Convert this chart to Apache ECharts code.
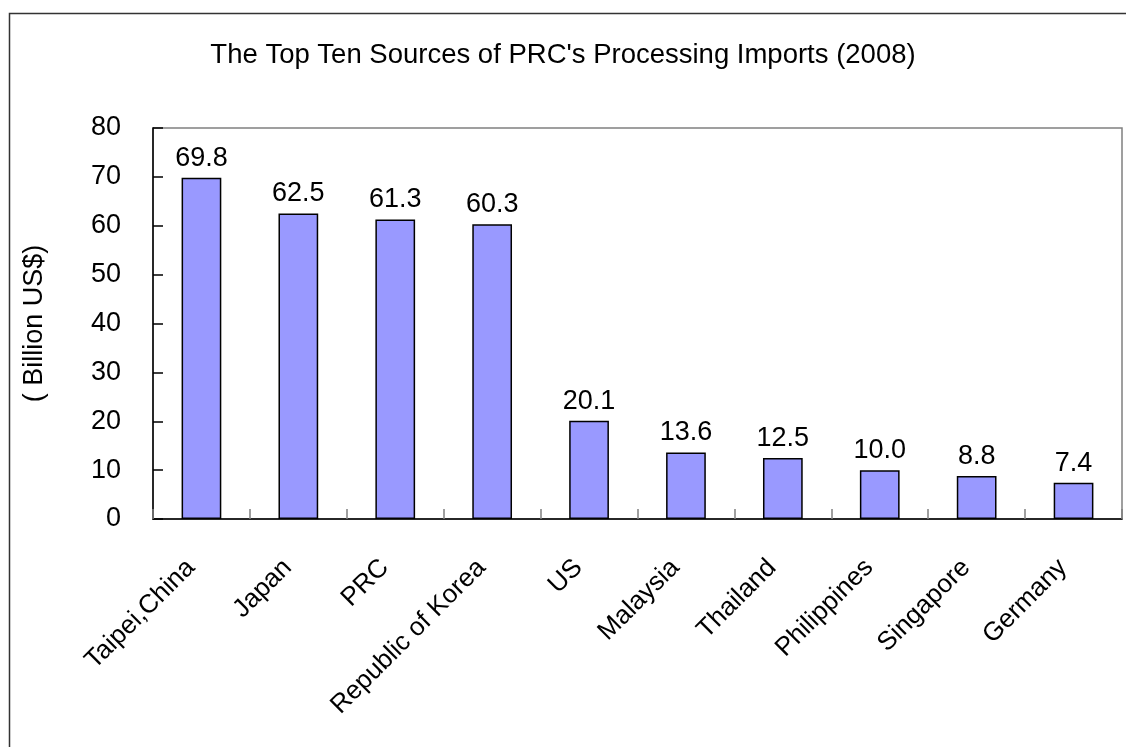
<!DOCTYPE html>
<html>
<head>
<meta charset="utf-8">
<script src="https://cdn.jsdelivr.net/npm/echarts@6/dist/echarts.min.js"></script>
<style>html,body{margin:0;padding:0;background:#fff;}#c{width:1126px;height:747px;}</style>
</head>
<body>
<div id="c"></div>
<script>
const categories = ["Taipei,China","Japan","PRC","Republic of Korea","US","Malaysia","Thailand","Philippines","Singapore","Germany"];
const values = [69.8, 62.5, 61.3, 60.3, 20.1, 13.6, 12.5, 10.0, 8.8, 7.4];
const yTicks = [0,10,20,30,40,50,60,70,80];
const titleText = "The Top Ten Sources of PRC's Processing Imports (2008)";
const yName = "( Billion US$)";

const chart = echarts.init(document.getElementById('c'));
const font = 'Liberation Sans, Arial, sans-serif';
chart.setOption({
  backgroundColor: '#fff',
  animation: false,
  graphic: [{
    type: 'rect', z: 100, silent: true,
    shape: {x: 9.5, y: 13.5, width: 1300, height: 1000},
    style: {fill: 'none', stroke: '#333', lineWidth: 1.5}
  }],
  title: {
    text: titleText, left: 'center', top: 36,
    textStyle: {fontFamily: font, fontSize: 27.5, fontWeight: 'normal', color: '#000'}
  },
  grid: {left: 153, top: 128, right: 4, bottom: 228, show: true, borderColor: '#808080', borderWidth: 1.5, backgroundColor: 'transparent'},
  xAxis: {
    type: 'category', data: categories,
    axisLine: {lineStyle: {color: '#000', width: 1.5}},
    axisTick: {show: true, inside: true, length: 10, alignWithLabel: false, lineStyle: {color: '#808080', width: 1.5}},
    axisLabel: {rotate: 45, margin: 34, padding: [0, 15, 0, 0], interval: 0, fontFamily: font, fontSize: 26, color: '#000'}
  },
  yAxis: {
    type: 'value', min: yTicks[0], max: yTicks[yTicks.length-1], interval: 10,
    name: yName, nameLocation: 'middle', nameGap: 105, nameRotate: 90,
    nameTextStyle: {fontFamily: font, fontSize: 27, color: '#000'},
    axisLine: {show: true, lineStyle: {color: '#000', width: 1.5}},
    axisTick: {show: true, inside: true, length: 10, lineStyle: {color: '#000', width: 1.5}},
    axisLabel: {margin: 32, fontFamily: font, fontSize: 27, color: '#000'},
    splitLine: {show: false}
  },
  series: [{
    type: 'bar', data: values, barWidth: '41%',
    itemStyle: {color: '#9999FF', borderColor: '#000', borderWidth: 1.5},
    label: {show: true, position: 'top', distance: 6, fontFamily: font, fontSize: 27, color: '#000',
      formatter: p => p.value.toFixed(1)}
  }]
});
</script>
</body>
</html>
